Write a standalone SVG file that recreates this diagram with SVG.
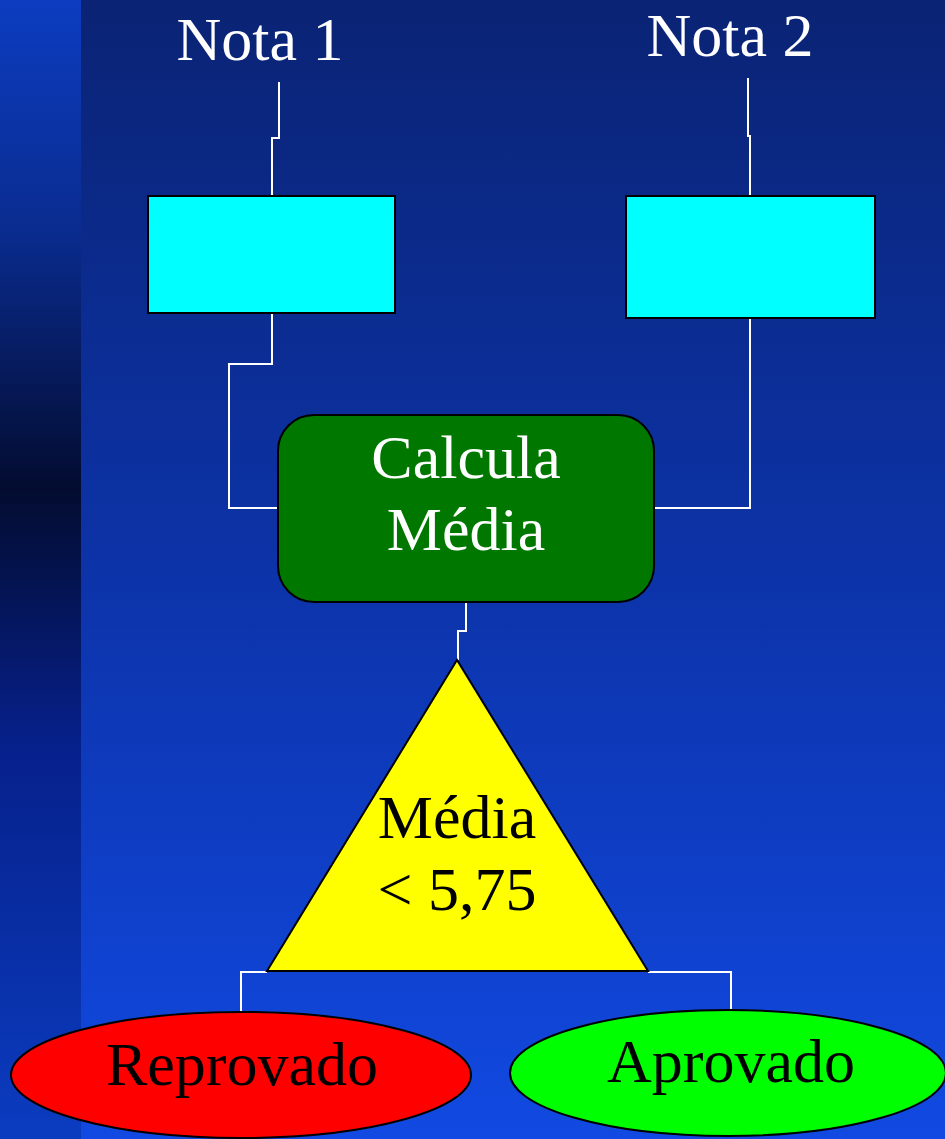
<svg xmlns="http://www.w3.org/2000/svg" width="945" height="1139" viewBox="0 0 945 1139">
<defs>
<linearGradient id="bg" x1="0" y1="0" x2="0" y2="1">
<stop offset="0" stop-color="#0a2374"/>
<stop offset="0.5" stop-color="#0c33a8"/>
<stop offset="1" stop-color="#1149e2"/>
</linearGradient>
<linearGradient id="strip" x1="0" y1="0" x2="0" y2="1">
<stop offset="0" stop-color="#0c3cc0"/>
<stop offset="0.2" stop-color="#0a2c90"/>
<stop offset="0.43" stop-color="#030c30"/>
<stop offset="0.65" stop-color="#06208a"/>
<stop offset="1" stop-color="#0b3cc0"/>
</linearGradient>
<style>
.t{font-family:"Liberation Serif","Times New Roman",serif;font-size:62px;text-anchor:middle}
.w{fill:#ffffff}
.k{fill:#000000}
.c{fill:none;stroke:#ffffff;stroke-width:2}
.s{stroke:#000000;stroke-width:2}
</style>
</defs>
<rect x="0" y="0" width="945" height="1139" fill="url(#bg)"/>
<rect x="0" y="0" width="81" height="1139" fill="url(#strip)"/>
<g id="connectors">
<polyline class="c" points="279,82 279,138 272,138 272,196"/>
<polyline class="c" points="748,78 748,136 750,136 750,196"/>
<polyline class="c" points="272,313 272,364 229,364 229,508 278,508"/>
<polyline class="c" points="750,318 750,508 654,508"/>
<polyline class="c" points="466,603 466,631 458,631 458,660"/>
<polyline class="c" points="267,972 241,972 241,1012"/>
<polyline class="c" points="648,972 731,972 731,1010"/>
</g>
<g id="nota1"><text class="t w" x="260" y="60">Nota 1</text></g>
<g id="nota2"><text class="t w" x="730" y="56">Nota 2</text></g>
<g id="box1"><rect class="s" x="148" y="196" width="247" height="117" fill="#00ffff"/></g>
<g id="box2"><rect class="s" x="626" y="196" width="249" height="122" fill="#00ffff"/></g>
<g id="calcula">
<rect class="s" x="278" y="415" width="376" height="187" rx="36" ry="36" fill="#007800"/>
<text class="t w" x="466" y="478">Calcula</text>
<text class="t w" x="466" y="550">Média</text>
</g>
<g id="decisao">
<polygon class="s" points="457,660 267,971 648,971" fill="#ffff00"/>
<text class="t k" x="457" y="838">Média</text>
<text class="t k" x="457" y="910">&lt; 5,75</text>
</g>
<g id="reprovado">
<ellipse class="s" cx="241" cy="1075" rx="230" ry="63" fill="#ff0000"/>
<text class="t k" x="242" y="1085">Reprovado</text>
</g>
<g id="aprovado">
<ellipse class="s" cx="728" cy="1073" rx="218" ry="63" fill="#00ff00"/>
<text class="t k" x="731" y="1082">Aprovado</text>
</g>
</svg>
